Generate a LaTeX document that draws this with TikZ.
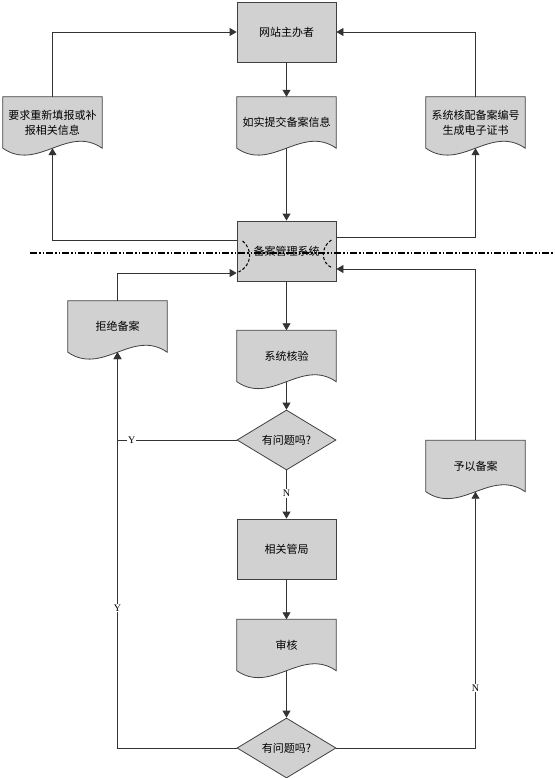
\documentclass[tikz,border=0pt]{standalone}
\usepackage{fontspec}
\newfontfamily\cjk{Noto Sans CJK SC}
\newfontfamily\ynfont{Liberation Serif}
\usepackage{tikz}
\usetikzlibrary{shapes.geometric}
\usetikzlibrary{arrows.meta,backgrounds}

\tikzset{
  boxline/.style={draw=black!75,line width=0.8pt,fill=black!18},
  procbox/.style={rectangle,boxline,minimum width=99pt,minimum height=60pt,inner sep=0pt,
    font=\cjk\fontsize{11}{15}\selectfont},
  docbox/.style={rectangle,draw=none,minimum width=99pt,minimum height=51pt,inner sep=0pt,
    align=center,font=\cjk\fontsize{11}{15}\selectfont},
  askbox/.style={diamond,boxline,minimum width=99pt,minimum height=60pt,inner sep=0pt,
    aspect=1.65,font=\cjk\fontsize{11}{15}\selectfont},
  flow/.style={draw=black!80,line width=0.8pt,-{Triangle[length=7pt,width=8pt]}},
  answer/.style={fill=white,inner sep=1pt,font=\ynfont\fontsize{10}{10}\selectfont},
  jumparc/.style={draw=black,line width=1pt,dash pattern=on 3pt off 2pt},
  sepline/.style={draw=black,line width=1.6pt,dash pattern=on 7pt off 2pt on 1.5pt off 2pt on 1.5pt off 2pt}
}

\begin{document}
\begin{tikzpicture}[x=1pt,y=-1pt]
      \useasboundingbox (0,0) rectangle (554,778);

      %上半部分
      \node (host) at (286.5,32) [procbox]{网站主办者};
      \node (submit) at (286.5,122.5) [docbox]{如实提交备案信息};
      \node (reqinfo) at (52.5,122.5) [docbox]{要求重新填报或补\\报相关信息};
      \node (cert) at (475.5,122.5) [docbox]{系统核配备案编号\\生成电子证书};
      \node (mgmt) at (286.5,251) [procbox]{备案管理系统};

      %下半部分
      \node (reject) at (117.5,326.5) [docbox]{拒绝备案};
      \node (verify) at (286.5,356) [docbox]{系统核验};
      \node (dec1) at (286.5,440) [askbox]{有问题吗?};
      \node (grant) at (475.5,466) [docbox]{予以备案};
      \node (bureau) at (286.5,549) [procbox]{相关管局};
      \node (audit) at (286.5,645) [docbox]{审核};
      \node (dec2) at (286.5,748) [askbox]{有问题吗?};

      %文档形状
      \begin{scope}[on background layer]
      \foreach \d in {submit,reqinfo,cert,reject,verify,grant,audit}  {
      	\filldraw[boxline] (\d.north west) -- (\d.north east) -- (\d.south east)
      	.. controls ([xshift=15pt,yshift=24pt]\d.south) and ([xshift=-15pt,yshift=-24pt]\d.south) .. (\d.south west) -- cycle;
      }
      \end{scope}

      %连线
      \draw[flow] (host.south) -- (submit.north);
      \draw[flow] (submit.south) -- (mgmt.north);
      \draw[flow] ([yshift=11pt]mgmt.west) -| (reqinfo.south);
      \draw[flow] (reqinfo.north) |- (host.west);
      \draw[flow] ([yshift=14pt]mgmt.east) -| (cert.south);
      \draw[flow] (cert.north) |- (host.east);
      \draw[flow] (mgmt.south) -- (verify.north);
      \draw[flow] (verify.south) -- (dec1.north);
      \draw[flow] (dec1.west) -| node[answer,pos=0.44] (y1) {Y} (reject.south);
      \draw[flow] (dec1.south) -- node[answer,pos=0.48] (n1) {N} (bureau.north);
      \draw[flow] (bureau.south) -- (audit.north);
      \draw[flow] (audit.south) -- (dec2.north);
      \draw[flow] (dec2.west) -| node[answer,pos=0.677] (y2) {Y} (reject.south);
      \draw[flow] (dec2.east) -| node[answer,pos=0.617] (n2) {N} (grant.south);
      \draw[flow] (reject.north) |- ([yshift=-22pt]mgmt.west);
      \draw[flow] (grant.north) |- ([yshift=-18pt]mgmt.east);

      %跨线
      \draw[jumparc] ([xshift=6pt,yshift=10pt]mgmt.west) .. controls ([xshift=16pt,yshift=2pt]mgmt.west)
      	and ([xshift=16pt,yshift=-14pt]mgmt.west) .. ([xshift=2pt,yshift=-21pt]mgmt.west);
      \draw[jumparc] ([xshift=-5pt,yshift=11pt]mgmt.east) .. controls ([xshift=-16pt,yshift=4pt]mgmt.east)
      	and ([xshift=-16pt,yshift=-12pt]mgmt.east) .. ([xshift=-4pt,yshift=-17pt]mgmt.east);

      %分隔线
      \coordinate (sepL) at (30,253);
      \coordinate (sepR) at (554,253);
      \draw[sepline] (sepL) -- (sepR);

      \end{tikzpicture}
\end{document}
